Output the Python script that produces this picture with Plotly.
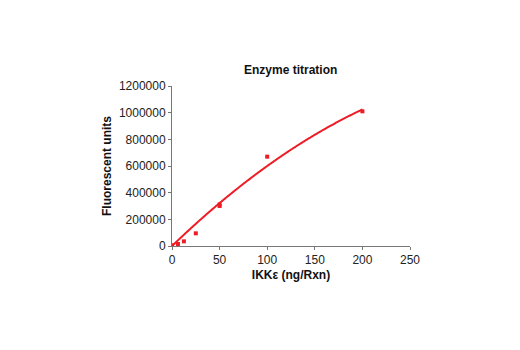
import numpy as np
import plotly.graph_objects as go

x_vals = [0, 6.25, 12.5, 25, 50, 50, 100, 200]
y_vals = [5000, 15000, 35000, 95000, 300000, 312000, 670000, 1010000]
x_ticks = [0, 50, 100, 150, 200, 250]
y_ticks = [0, 200000, 400000, 600000, 800000, 1000000, 1200000]

red = "#ee1c25"
# polynomial (order 2) trendline through the origin, least squares
xa = np.array(x_vals, dtype=float)
ya = np.array(y_vals, dtype=float)
A = np.column_stack([xa, xa ** 2])
(c1, c2), *_ = np.linalg.lstsq(A, ya, rcond=None)
xf = np.linspace(0, 200, 200)
yf = c1 * xf + c2 * xf ** 2

fig = go.Figure()
fig.add_trace(go.Scatter(x=xf, y=yf, mode="lines", line=dict(color=red, width=2, shape="spline"),
                         hoverinfo="skip"))
fig.add_trace(go.Scatter(x=x_vals, y=y_vals, mode="markers",
                         marker=dict(symbol="square", size=4, color=red)))

font = "Liberation Sans Narrow, Arial Narrow, Liberation Sans, sans-serif"
fig.update_layout(
    width=520, height=350,
    margin=dict(l=172, r=110, t=86, b=104),
    paper_bgcolor="white", plot_bgcolor="white",
    showlegend=False,
    font=dict(family=font, size=12, color="#222"),
    title=dict(text="<b>Enzyme titration</b>", x=0.559, xanchor="center", y=0.8, yanchor="middle",
               font=dict(size=12, family=font, color="#111")),
    xaxis=dict(range=[0, 250], tickvals=x_ticks, showgrid=False, zeroline=False,
               showline=True, linecolor="#777", linewidth=1, ticks="outside", ticklen=3, tickcolor="#777",
               title=dict(text="<b>IKKε (ng/Rxn)</b>", standoff=4, font=dict(size=12, color="#111")),
               tickfont=dict(size=12)),
    yaxis=dict(range=[0, 1200000], tickvals=y_ticks, showgrid=False, zeroline=False,
               showline=True, linecolor="#777", linewidth=1, ticks="outside", ticklen=3, tickcolor="#777",
               tickformat="d",
               title=dict(text="<b>Fluorescent units</b>", standoff=4, font=dict(size=12, color="#111")),
               tickfont=dict(size=12)),
)
fig.write_html("out.html")
